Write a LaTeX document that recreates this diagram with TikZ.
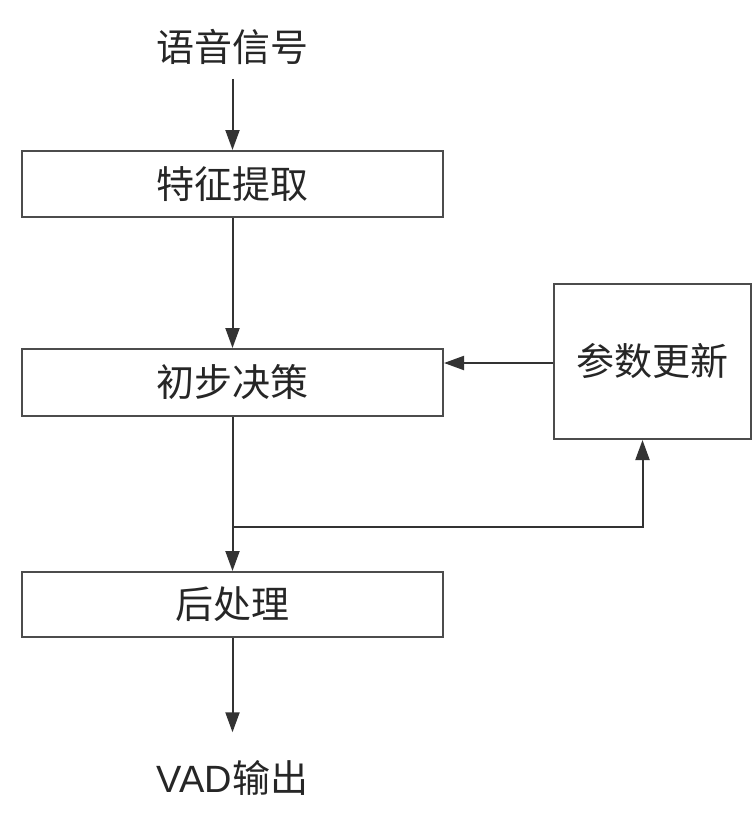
\documentclass[tikz,border=0pt]{standalone}
\usepackage{fontspec}
\setmainfont{Noto Sans CJK SC}
\newfontfamily\latfont{Liberation Sans}
\usetikzlibrary{arrows.meta}
\begin{document}
\begin{tikzpicture}[x=1pt,y=-1pt,
  txt/.style={font=\fontsize{38}{40}\selectfont, inner sep=0pt, text=black!85},
  box/.style={draw=black!70, line width=2pt, rectangle, minimum width=421pt, inner sep=0pt, font=\fontsize{38}{40}\selectfont, text=black!85},
  arr/.style={draw=black!80, line width=2pt, -{Triangle[length=20pt,width=14pt]}},
  ln/.style={draw=black!80, line width=2pt}]
\useasboundingbox (0,0) rectangle (754,814);
\fill[white] (0,0) rectangle (754,814);
\node[txt] (in) at (232.5,47) {语音信号};
\node[box, minimum height=66pt] (fe) at (232.5,184) {特征提取};
\node[box, minimum height=67pt] (pd) at (232.5,382.5) {初步决策};
\node[box, minimum height=65pt] (pp) at (232.5,604.5) {后处理};
\node[box, minimum width=197pt, minimum height=155pt] (pu) at (652.5,361.5) {参数更新};
\node[txt] (out) at (232.5,778) {{\latfont VAD}输出};
\coordinate (j) at (232.5,527);
\draw[arr, shorten <=14pt] (in.south) -- (fe.north);
\draw[arr] (fe.south) -- (pd.north);
\draw[arr] (pd.south) -- (pp.north);
\draw[arr, shorten >=28pt] (pp.south) -- (out.north);
\draw[arr] ([yshift=-1.5pt]pu.west) -- ([yshift=-1.5pt]pd.east |- pu.west);
\draw[arr] (j) -| ([xshift=-10pt]pu.south);
\end{tikzpicture}
\end{document}
